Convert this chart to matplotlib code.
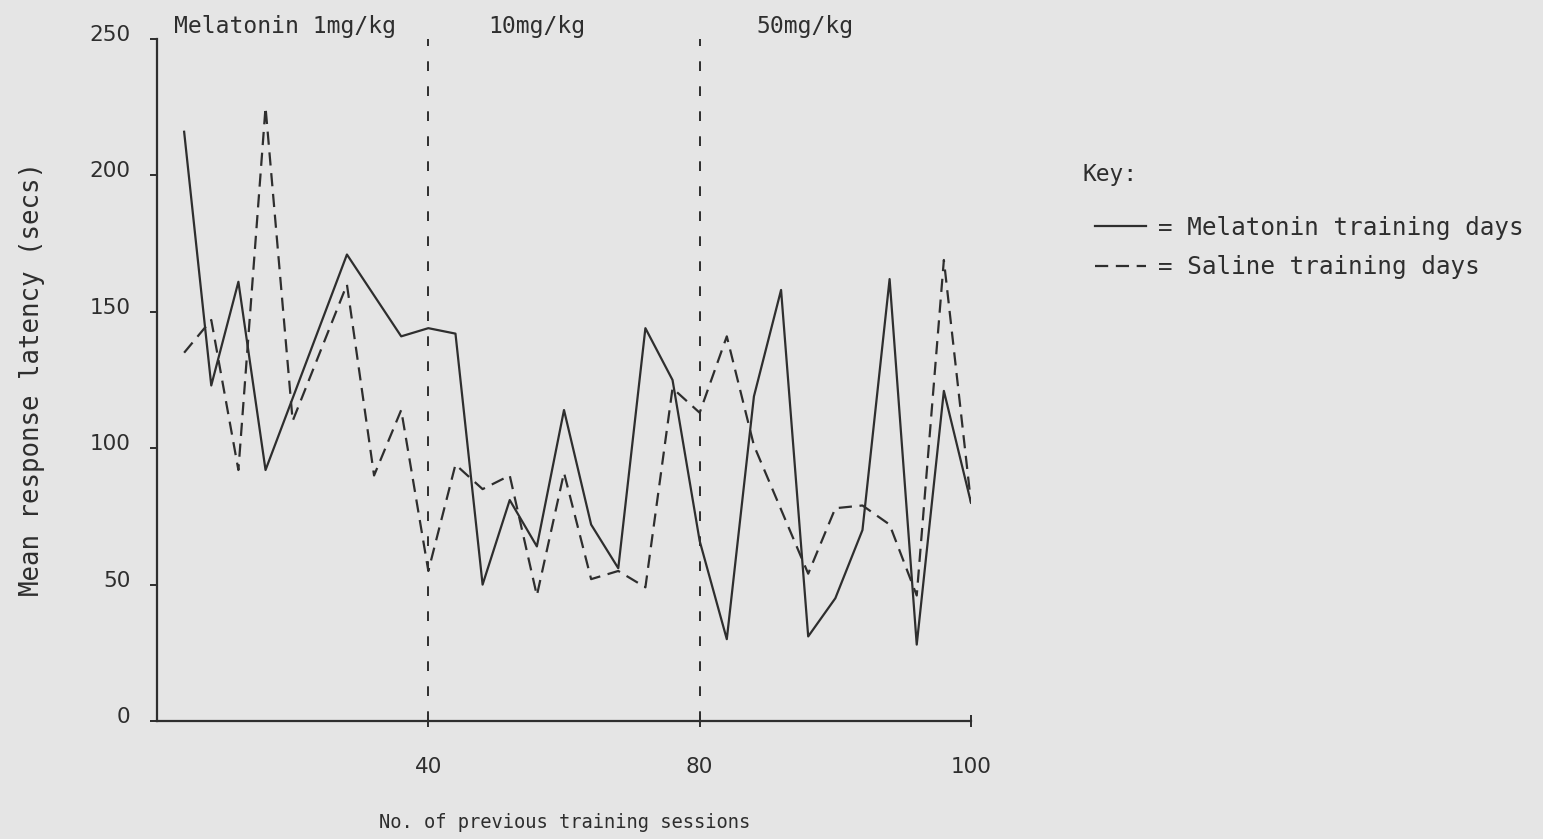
import numpy as np
import matplotlib
matplotlib.use("Agg")
import matplotlib.pyplot as plt
import matplotlib.transforms as mtransforms

# values (sessions, mean latency in secs)
mel_sessions = [4, 8, 12, 16, 28, 36, 40, 44, 48, 52, 56, 60, 64, 68, 72, 76,
                80, 82, 84, 86, 88, 90, 92, 94, 96, 98, 100]
mel_latency = [216, 123, 161, 92, 171, 141, 144, 142, 50, 81, 64, 114, 72, 56,
               144, 125, 66, 30, 119, 158, 31, 45, 70, 162, 28, 121, 80]

sal_sessions = [4, 8, 12, 16, 20, 28, 32, 36, 40, 44, 48, 52, 56, 60, 64, 68,
                72, 76, 80, 82, 84, 88, 90, 92, 94, 96, 98, 100]
sal_latency = [135, 147, 92, 225, 110, 160, 90, 114, 55, 94, 85, 90, 46, 91,
               52, 55, 49, 122, 113, 141, 101, 54, 78, 79, 72, 46, 169, 80]

dose_breaks = [40, 80]
dose_labels = ["Melatonin 1mg/kg", "10mg/kg", "50mg/kg"]
x_ticks = [40, 80, 100]
y_ticks = [0, 50, 100, 150, 200, 250]

# the x axis is drawn in three equal-width pieces: 0-40, 40-80, 80-100
seg_x = [0, 40, 80, 100]
seg_pos = [0, 1, 2, 3]


def forward(x):
    return np.interp(x, seg_x, seg_pos)


def inverse(p):
    return np.interp(p, seg_pos, seg_x)


ink = "#2e2e2e"
paper = "#e5e5e5"
mono = "DejaVu Sans Mono"
plt.rcParams["lines.scale_dashes"] = False

W, H = 1543, 839
fig = plt.figure(figsize=(W / 100, H / 100), dpi=100, facecolor=paper)
ax = fig.add_axes([157 / W, 1 - 721 / H, 814 / W, 682 / H], facecolor=paper)
ax.set_xscale("function", functions=(forward, inverse))

mel_line, = ax.plot(mel_sessions, mel_latency, color=ink, lw=1.6,
                    label="= Melatonin training days")
sal_line, = ax.plot(sal_sessions, sal_latency, color=ink, lw=1.6,
                    dashes=(9.5, 5.5), label="= Saline training days")

# dose changes
for xb in dose_breaks:
    ax.plot([xb, xb], [0, 250], color=ink, lw=1.4, dashes=(7, 11))

ax.set_xlim(0, 100)
ax.set_ylim(0, 250)

for side in ["top", "right"]:
    ax.spines[side].set_visible(False)
for side in ["left", "bottom"]:
    ax.spines[side].set_color(ink)
    ax.spines[side].set_linewidth(1.6)

ax.set_xticks(x_ticks)
ax.set_xticklabels([str(t) for t in x_ticks])
ax.set_yticks(y_ticks)
ax.tick_params(axis="x", direction="inout", length=8, width=1.4, color=ink,
               pad=22, labelsize=15.5, labelcolor=ink)
ax.tick_params(axis="y", direction="out", length=5, width=1.4, color=ink,
               pad=14, labelsize=15.5, labelcolor=ink)

# the typed numbers sit a little above their ticks
lift = mtransforms.ScaledTranslation(0, 6 / 100, fig.dpi_scale_trans)
for lab in ax.get_yticklabels():
    lab.set_transform(lab.get_transform() + lift)

ax.set_xlabel("No. of previous training sessions", family=mono, fontsize=13.5,
              color=ink, va="center")
ax.xaxis.set_label_coords((565 - 157) / 814, (721 - 822) / 682)
ax.set_ylabel("Mean response latency (secs)", family=mono, fontsize=18.5,
              color=ink, va="center")
ax.yaxis.set_label_coords((32 - 157) / 814, (721 - 379) / 682)

# dose labels along the top
dose_x = [174, 488, 756]
for px, txt in zip(dose_x, dose_labels):
    fig.text(px / W, 1 - 26 / H, txt, family=mono, fontsize=16.6,
             color=ink, va="center", ha="left")

# key
fig.text(1083 / W, 1 - 175 / H, "Key:", family=mono, fontsize=16.5,
         color=ink, va="center", ha="left")
leg = ax.legend(handles=[mel_line, sal_line], loc="upper left",
                bbox_to_anchor=(1095 / W, 1 - 216 / H),
                bbox_transform=fig.transFigure, frameon=False,
                prop={"family": mono, "size": 17.5}, handlelength=2.1,
                handletextpad=0.5, labelspacing=0.62, borderpad=0,
                borderaxespad=0)
for t in leg.get_texts():
    t.set_color(ink)

fig.savefig("out.png", dpi=100, facecolor=paper)
